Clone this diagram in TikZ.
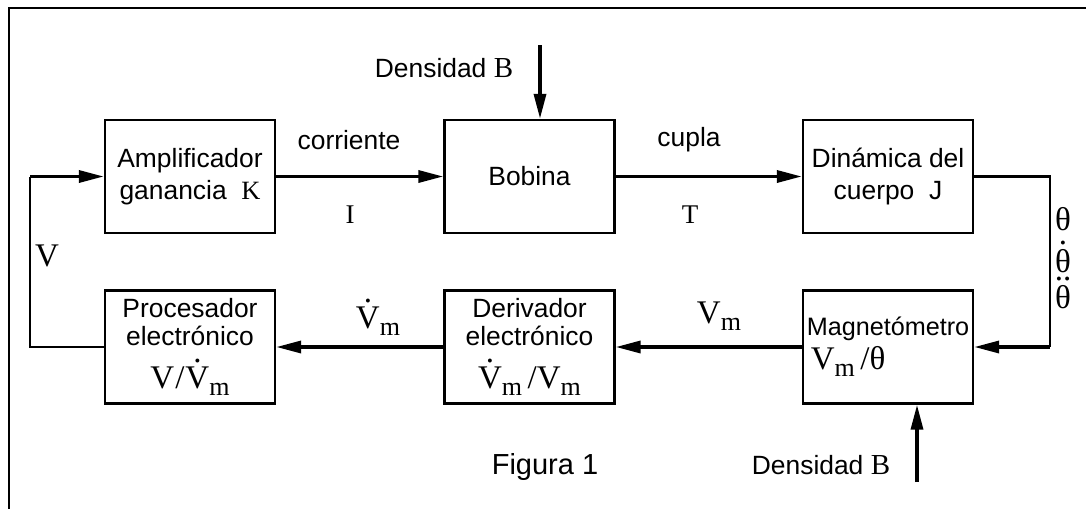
\documentclass[tikz,border=0pt]{standalone}
\usepackage{fontspec}
\setmainfont{Liberation Sans}
\newfontfamily\tms{Liberation Serif}
\usetikzlibrary{arrows.meta}

% a letter with one or two dots set above it, and a lowered subscript
\newcommand\overdots[2]{\leavevmode\setbox0\hbox{#2}%
  \hbox to\wd0{\hss\raisebox{\dimexpr\ht0+2pt\relax}[0pt][0pt]{#1}\hss}\kern-\wd0\box0}
\newcommand\dt[1]{\overdots{.}{#1}}
\newcommand\ddt[1]{\overdots{..}{#1}}
\newcommand\msub[1]{\raisebox{-3.5pt}{\fontsize{13}{13}\selectfont #1}}
\newcommand\symsize{\tms\fontsize{16.5}{19}\selectfont}

\begin{document}
\begin{tikzpicture}[x=0.5pt,y=-0.5pt,
  blk/.style={draw,line width=1.2pt,minimum width=85pt,minimum height=56.5pt,
    inner sep=0pt,align=center,font=\fontsize{13.2}{16}\selectfont},
  flow/.style={line width=1.7pt,-{Triangle[length=12.5pt,width=6pt]}},
  wire/.style={line width=1.2pt},
  lbl/.style={inner sep=0pt,font=\fontsize{13.2}{16}\selectfont},
  sym/.style={inner sep=0pt,font=\symsize},
  smallsym/.style={inner sep=0pt,font=\tms\fontsize{13.5}{16}\selectfont}]

\useasboundingbox (0,0) rectangle (1086,509);

% frame
\draw[line width=1.3pt] (1086,8) -- (9,8) -- (9,509);

% blocks
\node[blk] (amp) at (190,176.5) {Amplificador\\ganancia~~{\tms K}};
\node[blk] (bob) at (529.5,176.5) {Bobina};
\node[blk] (din) at (888,176.5) {Dinámica del\\cuerpo~~J};
\node[blk] (pro) at (190,347)
  {Procesador\\[-2pt]electrónico\\[5.5pt]{\symsize V\kern0.5pt/\kern0.5pt\dt{V}\msub{m}}};
\node[blk] (der) at (529.5,347)
  {Derivador\\[-2pt]electrónico\\[5.5pt]{\symsize \dt{V}\msub{m}\,/V\msub{m}}};
\node[blk,align=left,font=\fontsize{12.6}{16}\selectfont] (mag) at (888,347)
  {Magnetómetro\\[1pt]\hspace{2pt}{\symsize V\msub{m}\,/θ}};

% forward path
\draw[flow] (amp.east) -- (bob.west);
\draw[flow] (bob.east) -- (din.west);
\coordinate (rgt) at (1050,0);
\draw[wire] (din.east) -| (rgt |- mag.east);
\draw[flow] (rgt |- mag.east) -- (mag.east);
\draw[flow] (mag.west) -- (der.east);
\draw[flow] (der.west) -- (pro.east);

% feedback to the amplifier
\coordinate (lft) at (30,0);
\draw[wire] (pro.west) -| (lft |- amp.west);
\draw[flow] (lft |- amp.west) -- (amp.west);

% field inputs
\coordinate (btop) at (540,45);
\draw[flow] (btop) -- (btop |- bob.north);
\coordinate (bbot) at (917,482);
\draw[flow] (bbot) -- (bbot |- mag.south);

% signal labels
\node[lbl] (dtop) at (444,68) {Densidad {\tms\fontsize{14.5}{16}\selectfont B}};
\node[lbl] (dbot) at (821,465) {Densidad {\tms\fontsize{14.5}{16}\selectfont B}};
\node[lbl] (lcor) at (349,140) {corriente};
\node[smallsym] (li) at (350,215) {I};
\node[lbl] (lcup) at (689,140) {cupla};
\node[smallsym] (lt) at (690,215) {T};
\node[sym] (lv) at (47,256) {V};
\node[sym,anchor=base] (lvmd) at (378,328) {\dt{V}\msub{m}};
\node[sym,anchor=base] (lvm) at (719,323) {V\msub{m}};
\node[sym,anchor=base] (th0) at (1063,230) {θ};
\node[sym,anchor=base] (th1) at (1063,272) {\dt{θ}};
\node[sym,anchor=base] (th2) at (1063,308) {\ddt{θ}};
\node[lbl,font=\fontsize{14.5}{16}\selectfont] (fig) at (545,467) {Figura 1};
\end{tikzpicture}
\end{document}
